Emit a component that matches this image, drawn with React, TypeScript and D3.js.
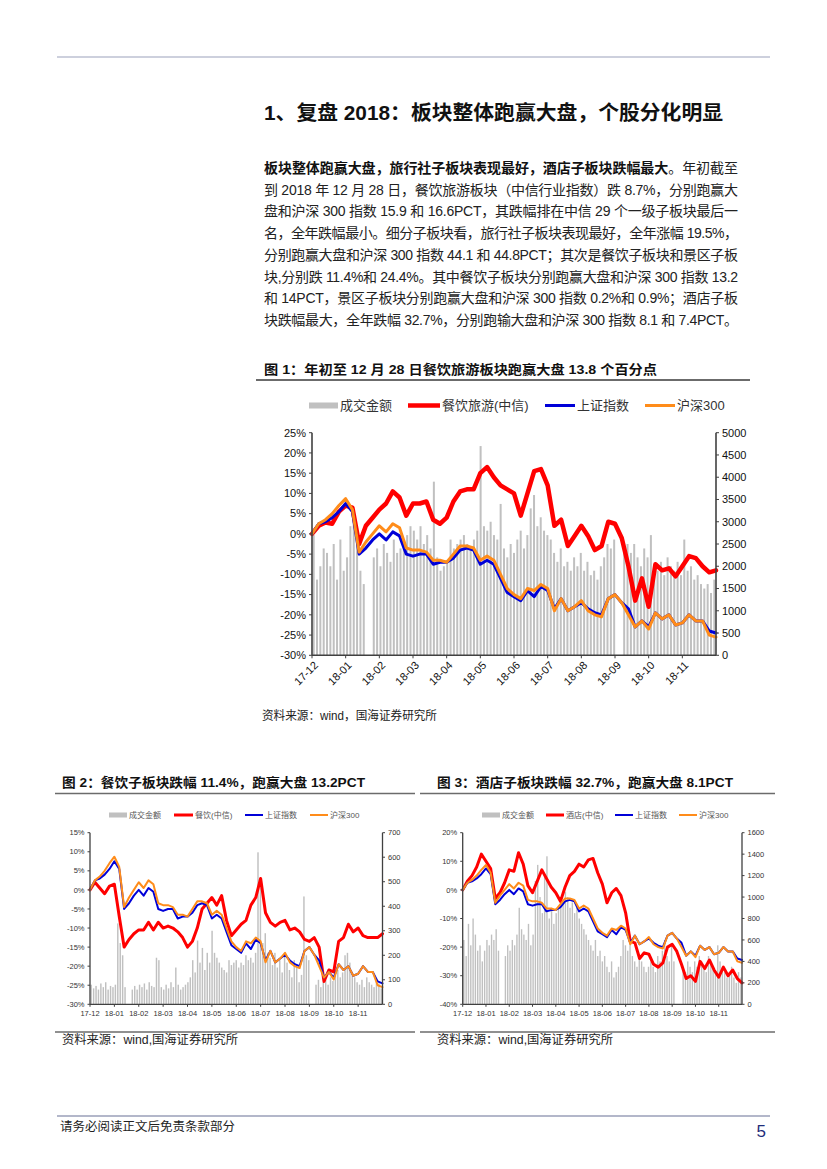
import React from "react";
import * as d3 from "d3";

// ---------- data ----------
const monthLabels = ["17-12", "18-01", "18-02", "18-03", "18-04", "18-05", "18-06", "18-07", "18-08", "18-09", "18-10", "18-11"];

// weekly readings, % change since 2017-12-29 (about one point per 0.2 month)
const cyTourism = [0, 2, 2.8, 2.5, 5.5, 7, 6.5, -2.5, 2, 4, 6, 7.5, 10.5, 9, 4.5, 7.5, 7.5, 8, 3.5, 2.5, 4, 8, 10.5, 11, 11, 15, 16.5, 14, 12, 11, 10, 4.5, 10, 15.5, 16, 12, 2, 3.5, -3, -0.5, 2, -0.5, -4, -3, 3, 2.5, -1, -8, -16.5, -11, -18, -7.5, -9, -8.5, -10.5, -8, -5.5, -6, -8, -9.5, -9];
const shIndex = [0, 2.5, 3, 4, 5.5, 7.5, 5.5, -5, -3.5, -1.5, 0, -1.5, 0.5, -0.5, -5, -5.5, -5, -5, -7.5, -7, -7, -6, -4, -3.5, -4, -7.5, -6.5, -7.5, -11, -14.5, -15.5, -16.5, -14, -15.5, -13, -14, -18.5, -16, -19, -18, -17, -18.5, -19.5, -20, -16, -15, -17, -18.5, -23, -21.5, -23, -19.5, -21, -20, -22.5, -22, -20, -21.5, -21.5, -24, -24.5];
const hs300 = [0, 2.5, 3.5, 5, 7, 8.7, 6, -4.5, -2, 0, 2, 0.5, 2.5, 1.5, -3.5, -4, -4, -4.5, -6.5, -6.5, -7, -5, -3, -3, -3.5, -6.5, -5.5, -6.5, -10, -13.5, -15, -16, -13.5, -14, -12.5, -13.5, -19, -16, -19, -18, -16.5, -19, -20, -20.5, -16, -15, -17, -20, -23, -21.5, -23.5, -19.5, -21, -20, -22.5, -22, -20, -21.5, -21.5, -25, -25.5];
const catering = [0, 2, 0.5, -1, 1, 1.5, -7, -15, -13, -11.5, -10.5, -10.5, -8.5, -10.5, -8.5, -10, -9.5, -10, -11, -12.5, -15, -13.5, -10, -5, -3.5, -2, -4, -1.5, -8, -12, -10.5, -9, -8, -4, -2, 3, -6, -8.5, -9.5, -8.5, -8, -10.5, -10, -11, -13, -13.5, -12.5, -15, -24, -21, -21.5, -13.5, -12.5, -9, -11, -10, -12, -12.5, -12.5, -12.5, -11.5];
const hotel = [0, 3, 5, 8, 12.5, 10, 7.5, -3, -1, 2.5, 7, 6.5, 13, 9, 1.5, -1, 3, 7, 4, 1, -1, -4, 1, 5, 6.5, 9, 8, 10.5, 11, 6, 2, -4.5, -1, 0.5, -2, -8, -18, -18.5, -24, -22, -22.5, -26, -27, -25.5, -20, -19, -21.5, -26, -31, -30, -32, -25, -27.5, -24.5, -28, -30.5, -27, -30, -28, -31, -32.5];

// turnover (成交金额), one bar about every two trading days
const turnover1 = [2700, 1700, 2000, 2400, 2300, 2000, 2500, 1700, 2600, 1900, 2200, 2900, 3000, 2700, 1900, 1600, 0, 0, 2200, 2400, 2000, 2500, 2300, 2100, 2600, 2300, 2400, 2600, 2700, 2900, 2800, 2600, 2900, 2500, 2700, 2400, 3900, 2200, 1900, 2000, 2100, 2600, 2400, 2500, 2600, 2700, 2500, 2400, 2600, 2800, 4700, 2900, 2800, 3000, 2700, 2600, 3400, 2400, 2200, 2500, 2300, 2600, 2800, 2400, 2700, 3300, 3600, 2900, 3100, 2800, 2700, 2600, 2300, 2100, 2400, 2000, 2100, 1900, 2200, 2000, 2300, 1900, 2100, 1800, 1900, 1700, 2000, 2200, 2500, 2400, 2600, 0, 0, 2400, 2500, 2300, 2500, 2200, 2000, 2400, 2200, 2700, 2000, 1900, 2100, 1800, 2200, 2000, 1900, 2100, 1800, 2600, 1900, 2000, 1700, 1800, 1600, 1500, 1600, 1400, 1700];
const turnover2 = [80, 65, 75, 60, 85, 70, 90, 60, 75, 70, 80, 330, 250, 200, 70, 0, 0, 60, 75, 60, 80, 70, 85, 60, 90, 75, 70, 190, 180, 70, 60, 80, 65, 90, 70, 150, 80, 60, 70, 80, 90, 110, 180, 130, 260, 170, 230, 140, 210, 170, 300, 210, 190, 170, 150, 140, 130, 180, 160, 170, 180, 150, 170, 160, 200, 180, 190, 170, 210, 620, 480, 250, 290, 210, 190, 160, 210, 150, 180, 130, 200, 170, 140, 110, 180, 150, 90, 120, 440, 200, 180, 0, 0, 80, 100, 70, 90, 100, 80, 110, 95, 120, 140, 110, 130, 200, 210, 170, 130, 110, 90, 80, 100, 70, 110, 90, 80, 70, 100, 85, 65];
const turnover3 = [600, 450, 750, 550, 800, 650, 500, 550, 400, 500, 600, 550, 650, 600, 700, 500, 0, 0, 450, 550, 500, 600, 550, 650, 900, 700, 650, 600, 750, 550, 650, 1150, 1300, 1000, 850, 1200, 1380, 800, 900, 750, 850, 900, 1000, 950, 1050, 1000, 900, 950, 850, 900, 800, 750, 700, 650, 600, 550, 500, 600, 450, 500, 400, 450, 350, 300, 400, 250, 300, 350, 450, 600, 550, 500, 650, 450, 400, 350, 450, 400, 350, 300, 350, 400, 350, 300, 450, 400, 500, 600, 450, 400, 550, 400, 0, 0, 0, 350, 300, 400, 350, 300, 400, 350, 450, 400, 350, 300, 450, 400, 350, 300, 550, 400, 350, 300, 250, 300, 350, 250, 200, 300, 250];

const pctTicks1 = [-30, -25, -20, -15, -10, -5, 0, 5, 10, 15, 20, 25];
const amtTicks1 = [0, 500, 1000, 1500, 2000, 2500, 3000, 3500, 4000, 4500, 5000];
const pctTicks2 = [-30, -25, -20, -15, -10, -5, 0, 5, 10, 15];
const amtTicks2 = [0, 100, 200, 300, 400, 500, 600, 700];
const pctTicks3 = [-40, -30, -20, -10, 0, 10, 20];
const amtTicks3 = [0, 200, 400, 600, 800, 1000, 1200, 1400, 1600];

const mainTitle = "1、复盘 2018：板块整体跑赢大盘，个股分化明显";
const leadBold = "板块整体跑赢大盘，旅行社子板块表现最好，酒店子板块跌幅最大";
const leadRest = "。年初截至";
const paragraphLines = [
  "到 2018 年 12 月 28 日，餐饮旅游板块（中信行业指数）跌 8.7%，分别跑赢大",
  "盘和沪深 300 指数 15.9 和 16.6PCT，其跌幅排在中信 29 个一级子板块最后一",
  "名，全年跌幅最小。细分子板块看，旅行社子板块表现最好，全年涨幅 19.5%，",
  "分别跑赢大盘和沪深 300 指数 44.1 和 44.8PCT；其次是餐饮子板块和景区子板",
  "块,分别跌 11.4%和 24.4%。其中餐饮子板块分别跑赢大盘和沪深 300 指数 13.2",
  "和 14PCT，景区子板块分别跑赢大盘和沪深 300 指数 0.2%和 0.9%；酒店子板",
  "块跌幅最大，全年跌幅 32.7%，分别跑输大盘和沪深 300 指数 8.1 和 7.4PCT。",
];

// ---------- styles ----------
const SANS = "'Liberation Sans', Arial, 'Noto Sans CJK SC', sans-serif";
const RED = "#FF0000";
const BLUE = "#0000D8";
const ORANGE = "#FF8C1A";
const BARC = "#C0C0C0";
const AXIS = "#404040";

type LineSpec = { data: number[]; color: string; width: number };
type LegendItem = { kind: "bar" | "line"; color: string; w: number; x0: number; x1: number; label: string };
type ChartCfg = {
  left: number; right: number; top: number; bottom: number;
  leftDomain: [number, number]; leftTicks: number[];
  rightDomain: [number, number]; rightTicks: number[];
  bars: number[]; lines: LineSpec[];
  tickFont: number; tickColor: string; rotate: boolean; axisW: number;
  legendY: number; legendFont: number; legendColor: string; legend: LegendItem[];
};

function ComboChart({ c }: { c: ChartCfg }) {
  const x = d3.scaleLinear().domain([0, monthLabels.length]).range([c.left, c.right]);
  const yL = d3.scaleLinear().domain(c.leftDomain).range([c.bottom, c.top]);
  const yR = d3.scaleLinear().domain(c.rightDomain).range([c.bottom, c.top]);
  const xb = d3.scaleBand<number>().domain(d3.range(c.bars.length)).range([c.left, c.right]).paddingInner(0.4).paddingOuter(0.2);
  const tl = c.rotate ? 3 : 2.5;
  return (
    <g>
      {/* legend */}
      {c.legend.map((it, i) => (
        <g key={i}>
          {it.kind === "bar" ? (
            <rect x={it.x0} y={c.legendY - it.w / 2} width={it.x1 - it.x0} height={it.w} fill={it.color} />
          ) : (
            <line x1={it.x0} x2={it.x1} y1={c.legendY} y2={c.legendY} stroke={it.color} strokeWidth={it.w} />
          )}
          <text x={it.x1 + 2} y={c.legendY} dy="0.36em" fontSize={c.legendFont} fill={c.legendColor}>{it.label}</text>
        </g>
      ))}
      {/* bars */}
      {c.bars.map((v, i) => (
        <rect key={i} x={xb(i)} width={xb.bandwidth()} y={yR(v)} height={c.bottom - yR(v)} fill={BARC} />
      ))}
      {/* lines */}
      {c.lines.map((ln, k) => {
        const xi = d3.scaleLinear().domain([0, ln.data.length - 1]).range([c.left, c.right]);
        const path = d3.line<number>().x((_, i) => xi(i)).y((d) => yL(d)).curve(d3.curveLinear)(ln.data) || "";
        return <path key={k} d={path} fill="none" stroke={ln.color} strokeWidth={ln.width} strokeLinejoin="round" strokeLinecap="round" />;
      })}
      {/* axes */}
      <line x1={c.left} x2={c.left} y1={c.top} y2={c.bottom} stroke={AXIS} strokeWidth={c.axisW} />
      <line x1={c.right} x2={c.right} y1={c.top} y2={c.bottom} stroke={AXIS} strokeWidth={c.axisW} />
      <line x1={c.left} x2={c.right} y1={c.bottom} y2={c.bottom} stroke={AXIS} strokeWidth={c.axisW} />
      {c.leftTicks.map((t) => (
        <g key={"l" + t}>
          <line x1={c.left - tl} x2={c.left} y1={yL(t)} y2={yL(t)} stroke={AXIS} strokeWidth={1} />
          <text x={c.left - tl - 3} y={yL(t)} dy="0.35em" textAnchor="end" fontSize={c.tickFont} fill={c.tickColor}>{t + "%"}</text>
        </g>
      ))}
      {c.rightTicks.map((t) => (
        <g key={"r" + t}>
          <line x1={c.right} x2={c.right + tl} y1={yR(t)} y2={yR(t)} stroke={AXIS} strokeWidth={1} />
          <text x={c.right + tl + 3} y={yR(t)} dy="0.35em" textAnchor="start" fontSize={c.tickFont} fill={c.tickColor}>{t}</text>
        </g>
      ))}
      {monthLabels.map((m, k) => (
        <g key={"m" + m}>
          <line x1={x(k)} x2={x(k)} y1={c.bottom} y2={c.bottom + tl} stroke={AXIS} strokeWidth={1} />
          {c.rotate ? (
            <text transform={`translate(${x(k) + 4},${c.bottom + 8}) rotate(-45)`} dy="0.35em" textAnchor="end" fontSize={c.tickFont} fill={c.tickColor}>{m}</text>
          ) : (
            <text x={x(k)} y={c.bottom + 9} dy="0.35em" textAnchor="middle" fontSize={c.tickFont} fill={c.tickColor}>{m}</text>
          )}
        </g>
      ))}
    </g>
  );
}

const chart1: ChartCfg = {
  left: 312, right: 716, top: 432.7, bottom: 655.3,
  leftDomain: [-30, 25], leftTicks: pctTicks1, rightDomain: [0, 5000], rightTicks: amtTicks1,
  bars: turnover1,
  lines: [
    { data: cyTourism, color: RED, width: 4.5 },
    { data: shIndex, color: BLUE, width: 3 },
    { data: hs300, color: ORANGE, width: 3 },
  ],
  tickFont: 11, tickColor: "#111", rotate: true, axisW: 1.6,
  legendY: 405.5, legendFont: 13, legendColor: "#333",
  legend: [
    { kind: "bar", color: BARC, w: 6, x0: 309, x1: 338, label: "成交金额" },
    { kind: "line", color: RED, w: 4.5, x0: 408, x1: 440, label: "餐饮旅游(中信)" },
    { kind: "line", color: BLUE, w: 3, x0: 545, x1: 575, label: "上证指数" },
    { kind: "line", color: ORANGE, w: 3, x0: 645, x1: 675, label: "沪深300" },
  ],
};

const chart2: ChartCfg = {
  left: 90, right: 382.5, top: 832.7, bottom: 1004.3,
  leftDomain: [-30, 15], leftTicks: pctTicks2, rightDomain: [0, 700], rightTicks: amtTicks2,
  bars: turnover2,
  lines: [
    { data: catering, color: RED, width: 3 },
    { data: shIndex, color: BLUE, width: 2 },
    { data: hs300, color: ORANGE, width: 2 },
  ],
  tickFont: 7.5, tickColor: "#333", rotate: false, axisW: 1.3,
  legendY: 815, legendFont: 8, legendColor: "#555",
  legend: [
    { kind: "bar", color: BARC, w: 5, x0: 109, x1: 127, label: "成交金额" },
    { kind: "line", color: RED, w: 3, x0: 174, x1: 193, label: "餐饮(中信)" },
    { kind: "line", color: BLUE, w: 2, x0: 245, x1: 263, label: "上证指数" },
    { kind: "line", color: ORANGE, w: 2, x0: 310, x1: 328, label: "沪深300" },
  ],
};

const chart3: ChartCfg = {
  left: 462.7, right: 742, top: 832.7, bottom: 1004.3,
  leftDomain: [-40, 20], leftTicks: pctTicks3, rightDomain: [0, 1600], rightTicks: amtTicks3,
  bars: turnover3,
  lines: [
    { data: hotel, color: RED, width: 3 },
    { data: shIndex, color: BLUE, width: 2 },
    { data: hs300, color: ORANGE, width: 2 },
  ],
  tickFont: 7.5, tickColor: "#333", rotate: false, axisW: 1.3,
  legendY: 815, legendFont: 8, legendColor: "#555",
  legend: [
    { kind: "bar", color: BARC, w: 5, x0: 482, x1: 500, label: "成交金额" },
    { kind: "line", color: RED, w: 3, x0: 546, x1: 564, label: "酒店(中信)" },
    { kind: "line", color: BLUE, w: 2, x0: 615, x1: 633, label: "上证指数" },
    { kind: "line", color: ORANGE, w: 2, x0: 679, x1: 697, label: "沪深300" },
  ],
};

export default function App() {
  const paraX = 264;
  const paraW = 474;
  const lineGap = 21.7;
  return (
    <svg width={827} height={1169} viewBox="0 0 827 1169" fontFamily={SANS}
      style={{ position: "absolute", left: 0, top: 0, background: "#fff" }}>
      <rect x={0} y={0} width={827} height={1169} fill="#fff" />
      <line x1={57} x2={770} y1={57} y2={57} stroke="#9ba1bb" strokeWidth={1} />

      <text x={264} y={120} fontSize={20} fontWeight="bold" fill="#111" textLength={459} lengthAdjust="spacingAndGlyphs">{mainTitle}</text>

      <text x={paraX} y={173} fontSize={14} fill="#222" textLength={paraW} lengthAdjust="spacing">
        <tspan fontWeight="bold" fill="#111">{leadBold}</tspan>
        <tspan>{leadRest}</tspan>
      </text>
      {paragraphLines.map((s, i) => (
        <text key={i} x={paraX} y={173 + (i + 1) * lineGap} fontSize={14} fill="#222" textLength={paraW} lengthAdjust="spacing">{s}</text>
      ))}

      {/* figure 1 */}
      <text x={264} y={374} fontSize={13} fontWeight="bold" fill="#111" textLength={393} lengthAdjust="spacingAndGlyphs">图 1：年初至 12 月 28 日餐饮旅游板块跑赢大盘 13.8 个百分点</text>
      <line x1={256} x2={750} y1={380} y2={380} stroke="#6b6b6b" strokeWidth={2} />
      <ComboChart c={chart1} />
      <text x={262} y={720} fontSize={12} fill="#222" textLength={175} lengthAdjust="spacingAndGlyphs">资料来源：wind，国海证券研究所</text>

      {/* figure 2 */}
      <text x={62} y={787} fontSize={13} fontWeight="bold" fill="#111" textLength={303} lengthAdjust="spacingAndGlyphs">图 2：餐饮子板块跌幅 11.4%，跑赢大盘 13.2PCT</text>
      <line x1={55} x2={415} y1={793.5} y2={793.5} stroke="#6b6b6b" strokeWidth={1.5} />
      <ComboChart c={chart2} />
      <line x1={55} x2={415} y1={1032} y2={1032} stroke="#6b6b6b" strokeWidth={1.5} />
      <text x={62} y={1044} fontSize={12} fill="#222" textLength={176} lengthAdjust="spacingAndGlyphs">资料来源：wind,国海证券研究所</text>

      {/* figure 3 */}
      <text x={437} y={787} fontSize={13} fontWeight="bold" fill="#111" textLength={296} lengthAdjust="spacingAndGlyphs">图 3：酒店子板块跌幅 32.7%，跑赢大盘 8.1PCT</text>
      <line x1={420} x2={775} y1={793.5} y2={793.5} stroke="#6b6b6b" strokeWidth={1.5} />
      <ComboChart c={chart3} />
      <line x1={420} x2={775} y1={1032} y2={1032} stroke="#6b6b6b" strokeWidth={1.5} />
      <text x={437} y={1044} fontSize={12} fill="#222" textLength={176} lengthAdjust="spacingAndGlyphs">资料来源：wind,国海证券研究所</text>

      {/* footer */}
      <line x1={57} x2={770} y1={1116} y2={1116} stroke="#b3b7ca" strokeWidth={2} />
      <text x={60} y={1131} fontSize={12} fill="#222" textLength={175} lengthAdjust="spacingAndGlyphs">请务必阅读正文后免责条款部分</text>
      <text x={766} y={1137} fontSize={17} fill="#1f2d7a" textAnchor="end">5</text>
    </svg>
  );
}
